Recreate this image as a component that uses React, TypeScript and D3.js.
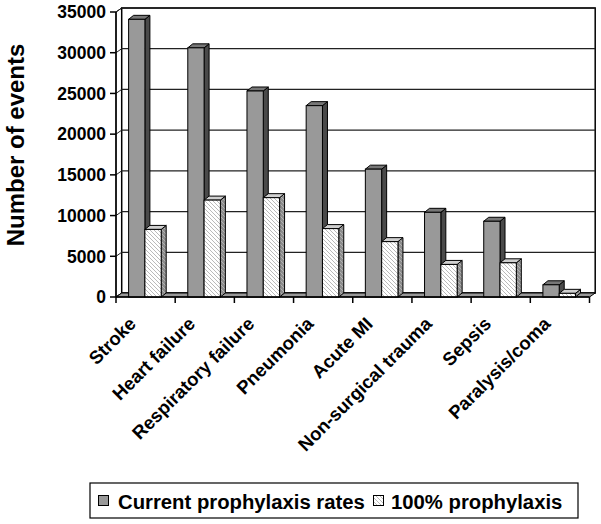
import React from "react";
import * as d3 from "d3";

const categories = [
  "Stroke",
  "Heart failure",
  "Respiratory failure",
  "Pneumonia",
  "Acute MI",
  "Non-surgical trauma",
  "Sepsis",
  "Paralysis/coma",
];
const currentRates = [34100, 30600, 25300, 23500, 15700, 10400, 9300, 1500];
const fullProphylaxis = [8300, 11900, 12200, 8400, 6800, 4000, 4200, 450];
const seriesNames = ["Current prophylaxis rates", "100% prophylaxis"];
const yTicks = [0, 5000, 10000, 15000, 20000, 25000, 30000, 35000];

const W = 601;
const H = 524;
const FONT = "'Liberation Sans', Arial, Helvetica, sans-serif";

export default function App() {
  const x0 = 116;
  const x1 = 589.5;
  const yBottom = 297;
  const yTop = 12;
  const wallDx = 5.7;
  const wallDy = -4;
  const barDx = 5;
  const barDy = -4;

  const y = d3.scaleLinear().domain([0, 35000]).range([yBottom, yTop]);
  const xBand = d3.scaleBand<string>().domain(categories).range([x0, x1]);
  const bw = xBand.bandwidth();
  const barW = 16.3;
  const barOff = 12.6;

  const pts = (arr: number[][]) => arr.map((p) => p.join(",")).join(" ");

  const bar = (xl: number, v: number, kind: 0 | 1, key: string) => {
    const yv = y(v);
    const y0 = y(0);
    const front = kind === 0 ? "#999999" : "url(#hatch)";
    const top = kind === 0 ? "#777777" : "#d0d0d0";
    const side = kind === 0 ? "#4a4a4a" : "url(#hatchSide)";
    return (
      <g key={key}>
        <polygon
          points={pts([
            [xl + barW, yv],
            [xl + barW + barDx, yv + barDy],
            [xl + barW + barDx, y0 + barDy],
            [xl + barW, y0],
          ])}
          fill={side}
          stroke="#000"
          strokeWidth={1}
        />
        <polygon
          points={pts([
            [xl, yv],
            [xl + barDx, yv + barDy],
            [xl + barW + barDx, yv + barDy],
            [xl + barW, yv],
          ])}
          fill={top}
          stroke="#000"
          strokeWidth={1}
        />
        <rect x={xl} y={yv} width={barW} height={y0 - yv} fill={front} stroke="#000" strokeWidth={1} />
      </g>
    );
  };

  return (
    <svg
      width={W}
      height={H}
      style={{ position: "absolute", left: 0, top: 0, display: "block", background: "#fff" }}
      fontFamily={FONT}
    >
      <defs>
        <pattern id="hatch" patternUnits="userSpaceOnUse" width={4} height={4}>
          <rect width={4} height={4} fill="#fff" />
          <path d="M-1,-1 L5,5 M-1,3 L1,5 M3,-1 L5,1" stroke="#a8a8a8" strokeWidth={0.8} />
        </pattern>
        <pattern id="hatchSide" patternUnits="userSpaceOnUse" width={4} height={4}>
          <rect width={4} height={4} fill="#8c8c8c" />
          <path d="M-1,-1 L5,5 M-1,3 L1,5 M3,-1 L5,1" stroke="#bbbbbb" strokeWidth={0.8} />
        </pattern>
      </defs>

      {/* left wall */}
      <polygon
        points={pts([
          [x0, yBottom],
          [x0, yTop],
          [x0 + wallDx, yTop + wallDy],
          [x0 + wallDx, yBottom + wallDy],
        ])}
        fill="#fff"
        stroke="#000"
        strokeWidth={1}
      />
      {/* back wall */}
      <rect
        x={x0 + wallDx}
        y={yTop + wallDy}
        width={x1 + wallDx - (x0 + wallDx)}
        height={yBottom - yTop}
        fill="#fff"
        stroke="#000"
        strokeWidth={1.5}
      />
      {/* gridlines */}
      {yTicks.map((t) => (
        <g key={"g" + t}>
          <line
            x1={x0 + wallDx}
            x2={x1 + wallDx}
            y1={y(t) + wallDy}
            y2={y(t) + wallDy}
            stroke="#222"
            strokeWidth={1.3}
          />
          <line x1={x0} x2={x0 + wallDx} y1={y(t)} y2={y(t) + wallDy} stroke="#222" strokeWidth={1} />
        </g>
      ))}
      {/* floor */}
      <polygon
        points={pts([
          [x0, yBottom],
          [x0 + wallDx, yBottom + wallDy],
          [x1 + wallDx, yBottom + wallDy],
          [x1, yBottom],
        ])}
        fill="#999999"
        stroke="#000"
        strokeWidth={1}
      />

      {/* bars */}
      {categories.map((c, i) => {
        const bx = (xBand(c) as number) + barOff;
        return (
          <g key={c}>
            {bar(bx, currentRates[i], 0, c + "a")}
            {bar(bx + barW, fullProphylaxis[i], 1, c + "b")}
          </g>
        );
      })}

      {/* front y axis */}
      <line x1={x0} x2={x0} y1={yTop} y2={yBottom} stroke="#000" strokeWidth={1.5} />
      {yTicks.map((t) => (
        <g key={"t" + t}>
          <line x1={x0 - 6} x2={x0} y1={y(t)} y2={y(t)} stroke="#000" strokeWidth={1.5} />
          <text
            x={106}
            y={y(t)}
            dy="0.36em"
            textAnchor="end"
            fontSize={17.5}
            fontWeight="bold"
            fill="#000"
          >
            {t}
          </text>
        </g>
      ))}
      {/* x axis ticks */}
      <line x1={x0} x2={x1} y1={yBottom} y2={yBottom} stroke="#000" strokeWidth={1.5} />
      {categories.concat([""]).map((c, i) => {
        const xx = x0 + i * bw;
        return <line key={"xt" + i} x1={xx} x2={xx} y1={yBottom} y2={yBottom + 6} stroke="#000" strokeWidth={1.5} />;
      })}
      {categories.map((c) => {
        const cx = (xBand(c) as number) + bw / 2;
        return (
          <text
            key={"xl" + c}
            transform={`translate(${cx - 8.5},${325}) rotate(-45)`}
            textAnchor="end"
            fontSize={18.5}
            fontWeight="bold"
            fill="#000"
          >
            {c}
          </text>
        );
      })}

      {/* y axis title */}
      <text
        transform={`translate(24,145) rotate(-90)`}
        textAnchor="middle"
        fontSize={24}
        fontWeight="bold"
        fill="#000"
      >
        Number of events
      </text>

      {/* legend */}
      <rect x={90} y={483} width={488} height={35} fill="#fff" stroke="#000" strokeWidth={1.2} />
      <rect x={98.5} y={495.5} width={10} height={10} fill="#999999" stroke="#000" strokeWidth={1} />
      <text x={118} y={508.5} fontSize={20.3} fontWeight="bold" fill="#000">
        {seriesNames[0]}
      </text>
      <rect x={373.5} y={495.5} width={10} height={10} fill="url(#hatch)" stroke="#000" strokeWidth={1} />
      <text x={391} y={508.5} fontSize={20.3} fontWeight="bold" fill="#000">
        {seriesNames[1]}
      </text>
    </svg>
  );
}
